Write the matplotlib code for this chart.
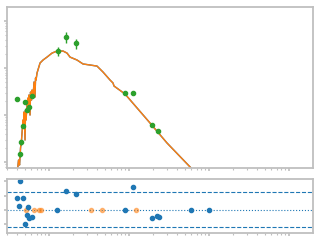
import matplotlib
matplotlib.use("Agg")
import matplotlib.pyplot as plt
from matplotlib.ticker import LogLocator, NullFormatter, FixedLocator

# Model spectrum (wavelength in micron, flux)
model_wl = [0.4038, 0.4157, 0.4279, 0.4404, 0.4529, 0.4597, 0.4732, 0.4800, 0.4870,
            0.5012, 0.5084, 0.5158, 0.5309, 0.5464, 0.5544, 0.5623, 0.5788, 0.5871,
            0.6043, 0.6131, 0.6310, 0.6494, 0.6683, 0.6780, 0.6879, 0.7079, 0.7393,
            0.7723, 0.8414, 0.9441, 1.090, 1.259, 1.496, 1.679, 1.830, 2.239, 2.661,
            3.254, 3.981, 4.732, 5.788, 6.310, 6.494, 8.913, 18.31, 29.85, 61.33]
model_fl = [6.76e-15, 1.10e-14, 8.63e-15, 1.99e-14, 2.94e-14, 4.14e-14, 7.83e-14, 5.28e-14, 1.16e-13,
            2.94e-14, 1.28e-13, 7.83e-14, 1.63e-13, 2.30e-13, 1.16e-13, 2.67e-13, 1.00e-13, 3.08e-13,
            2.08e-13, 3.40e-13, 2.42e-13, 5.04e-13, 2.42e-13, 6.12e-13, 5.56e-13, 7.83e-13, 1.00e-12,
            1.28e-12, 1.48e-12, 1.71e-12, 2.08e-12, 2.30e-12, 2.30e-12, 2.08e-12, 1.71e-12, 1.48e-12, 1.22e-12,
            1.16e-12, 1.10e-12, 8.22e-13, 5.56e-13, 4.80e-13, 4.14e-13, 2.80e-13, 6.76e-14, 2.54e-14, 7.1e-15]

# Photometry
phot_wl = [0.398, 0.434, 0.447, 0.473, 0.501, 0.531, 0.562, 0.613, 1.30, 1.63, 2.17,
           8.91, 11.2, 19.4, 23.0]
phot_fl = [2.19e-13, 1.48e-14, 2.67e-14, 5.83e-14, 1.89e-13, 1.28e-13, 1.48e-13, 2.54e-13,
           2.30e-12, 4.57e-12, 3.40e-12, 2.94e-13, 2.94e-13, 6.12e-14, 4.57e-14]
phot_frac_err = [0.08, 0.12, 0.12, 0.1, 0.08, 0.08, 0.08, 0.08, 0.2, 0.25, 0.25,
                 0.04, 0.04, 0.05, 0.05]

# Residuals
res_wl = [0.398, 0.4217, 0.434, 0.473, 0.501, 0.531, 0.547, 0.562, 0.613, 1.26, 1.63, 2.17,
          8.91, 11.2, 19.4, 22.4, 23.7, 59.6, 100.0]
res_val = [1.67, 0.56, 4.03, 1.67, -1.94, -0.69, 0.42, -1.11, -0.97, 0.0, 2.64, 2.22,
           0.0, 3.19, -1.11, -0.83, -0.97, 0.0, 0.0]
lim_wl = [0.516, 0.649, 0.75, 0.794, 3.35, 4.60, 12.2]
lim_val = [0, 0, 0, 0, 0, 0, 0]

fig = plt.figure(figsize=(3.2, 2.4), dpi=100)
ax1 = fig.add_axes([0.022, 0.30, 0.956, 0.671])
ax2 = fig.add_axes([0.022, 0.029, 0.956, 0.225])

spine_c = "#bfbfbf"
for ax in (ax1, ax2):
    for s in ax.spines.values():
        s.set_color(spine_c)
        s.set_linewidth(1.3)
    ax.set_xscale("log")
    ax.set_xlim(10 ** -0.525, 10 ** 3.3)
    ax.tick_params(which="both", colors=spine_c, labelleft=False, labelbottom=False,
                   direction="out")
    ax.tick_params(which="major", length=2.5, width=1.2)
    ax.tick_params(which="minor", length=1.5, width=0.8)
    ax.xaxis.set_major_locator(LogLocator(base=10, numticks=20))
    ax.xaxis.set_minor_locator(LogLocator(base=10, subs=range(2, 10), numticks=20))
    ax.xaxis.set_minor_formatter(NullFormatter())

ax1.set_yscale("log")
ax1.set_ylim(10 ** -14.128, 10 ** -10.7)
ax1.yaxis.set_minor_formatter(NullFormatter())
ax1.yaxis.set_major_locator(LogLocator(base=10, numticks=20))
ax1.yaxis.set_minor_locator(LogLocator(base=10, subs=range(2, 10), numticks=20))

ax1.plot(model_wl, model_fl, color="C0", lw=1.0)
ax1.plot(model_wl, model_fl, color="C1", lw=1.0)
yerr = [f * e for f, e in zip(phot_fl, phot_frac_err)]
xerr = [w * 0.06 for w in phot_wl]
ax1.errorbar(phot_wl, phot_fl, yerr=yerr, xerr=xerr, fmt="o", color="C2", ms=3,
             elinewidth=1, capsize=0, zorder=3)

ax2.set_ylim(-3.2, 4.3)
ax2.yaxis.set_major_locator(FixedLocator([-2, 0, 2, 4]))
ax2.axhline(0, color="C0", ls=":", lw=0.8)
ax2.axhline(2.5, color="C0", ls="--", lw=0.8)
ax2.axhline(-2.35, color="C0", ls="--", lw=0.8)
ax2.plot(lim_wl, lim_val, "o", color="C1", alpha=0.5, ms=3)
ax2.plot(res_wl, res_val, "o", color="C0", ms=3)

fig.savefig("out.png", dpi=100)
